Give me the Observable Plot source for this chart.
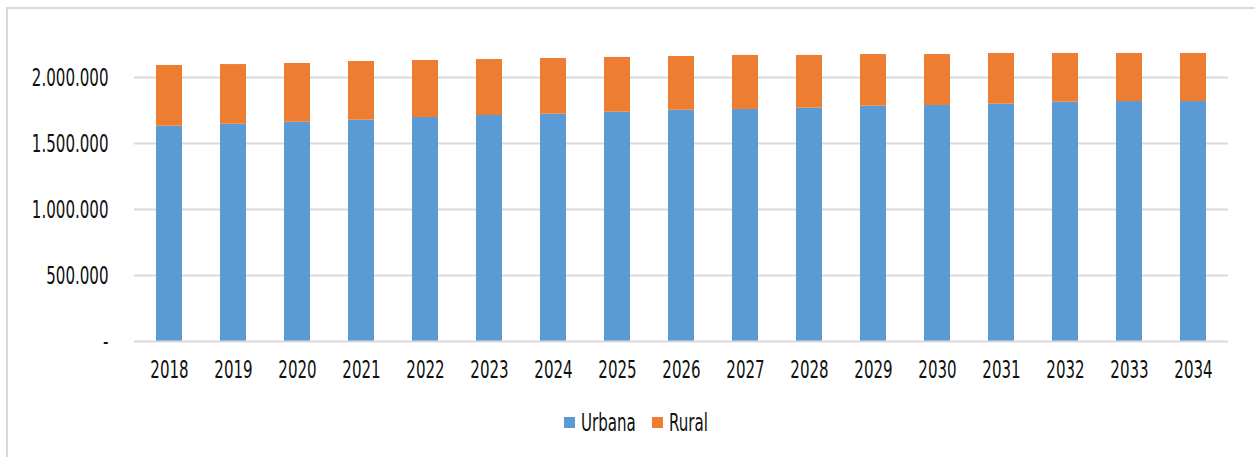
<!DOCTYPE html>
<html>
<head>
<meta charset="utf-8">
<script src="https://cdn.jsdelivr.net/npm/d3@7"></script>
<script src="https://cdn.jsdelivr.net/npm/@observablehq/plot@0.6"></script>
<style>
  html, body { margin: 0; padding: 0; background: #fff; }
  #wrap { position: relative; width: 1255px; height: 457px; overflow: hidden; background: #fff; }
  #frame { position: absolute; left: 6px; top: 7px; width: 1400px; height: 600px;
           border-left: 2px solid #d9d9d9; border-top: 2px solid #d9d9d9; box-sizing: border-box; }
  #chart { position: absolute; left: 0; top: 0; }
  #legend { position: absolute; left: 564px; top: 409px; height: 26px; display: flex; align-items: center;
            font-family: "DejaVu Sans Condensed", "DejaVu Sans", sans-serif; font-size: 25px; color: #111; }
  .sw { display: inline-block; width: 11px; height: 11px; margin-right: 6px; flex: none; }
  .lt { display: inline-block; transform: scaleX(0.67); transform-origin: left center; }
</style>
</head>
<body>
<div id="wrap">
  <div id="frame"></div>
  <div id="chart"></div>
  <div id="legend"></div>
</div>
<script>
const years = ["2018","2019","2020","2021","2022","2023","2024","2025","2026","2027","2028","2029","2030","2031","2032","2033","2034"];
const urbana = [1631000,1646000,1661000,1677000,1697000,1712000,1722000,1737000,1752000,1758000,1768000,1783000,1788000,1798000,1813000,1818000,1818000];
const rural  = [460000,452000,445000,444000,432000,424000,422000,415000,407000,409000,399000,391000,386000,384000,369000,364000,364000];
const seriesNames = ["Urbana","Rural"];
const seriesColors = ["#5B9BD5","#ED7D31"];
const yTicks = [0,500000,1000000,1500000,2000000];

const rows = [];
years.forEach((y,i) => {
  rows.push({year: y, serie: "Urbana", value: urbana[i]});
  rows.push({year: y, serie: "Rural", value: rural[i]});
});

const fmt = d => d === 0 ? "-" : d3.format(",")(d).replace(/,/g, ".");
const SX = 0.67;

const chart = Plot.plot({
  width: 1255,
  height: 395,
  marginLeft: 134,
  marginRight: 27,
  marginTop: 11,
  marginBottom: 54,
  style: {fontFamily: "'DejaVu Sans Condensed', 'DejaVu Sans', sans-serif", fontSize: "25px", color: "#111", background: "transparent"},
  x: {domain: years, paddingInner: 0.596, paddingOuter: 0.298, label: null, tickSize: 0, tickPadding: 19},
  y: {domain: [0, 2500000], ticks: yTicks, tickFormat: fmt, label: null, tickSize: 0, tickPadding: 26},
  color: {domain: seriesNames, range: seriesColors},
  marks: [
    Plot.ruleY(yTicks.filter(d => d > 0), {stroke: "#d9d9d9", strokeWidth: 2}),
    Plot.barY(rows, {x: "year", y: "value", fill: "serie", order: seriesNames}),
    Plot.ruleY([0], {stroke: "#d9d9d9", strokeWidth: 2})
  ]
});
document.getElementById("chart").appendChild(chart);

// condense tick labels horizontally around their anchor
chart.querySelectorAll('g[aria-label$="tick label"] text').forEach(t => {
  const tr = t.getAttribute("transform");
  if (tr) {
    t.setAttribute("transform", tr + ` scale(${SX},1)`);
  } else {
    const x = t.getAttribute("x") || 0, y = t.getAttribute("y") || 0;
    t.removeAttribute("x"); t.removeAttribute("y");
    t.setAttribute("transform", `translate(${x},${y}) scale(${SX},1)`);
  }
});

const legend = document.getElementById("legend");
const legendGaps = [0, 16];
seriesNames.forEach((n, i) => {
  const sw = document.createElement("span");
  sw.className = "sw";
  sw.style.background = seriesColors[i];
  sw.style.marginLeft = legendGaps[i] + "px";
  const lt = document.createElement("span");
  lt.className = "lt";
  lt.textContent = n;
  const box = document.createElement("span");
  box.style.display = "inline-block";
  legend.appendChild(sw);
  legend.appendChild(lt);
  // shrink the layout width to the condensed text width
  const w = lt.getBoundingClientRect().width;
  lt.style.marginRight = (-(lt.offsetWidth - w)) + "px";
});
</script>
</body>
</html>
